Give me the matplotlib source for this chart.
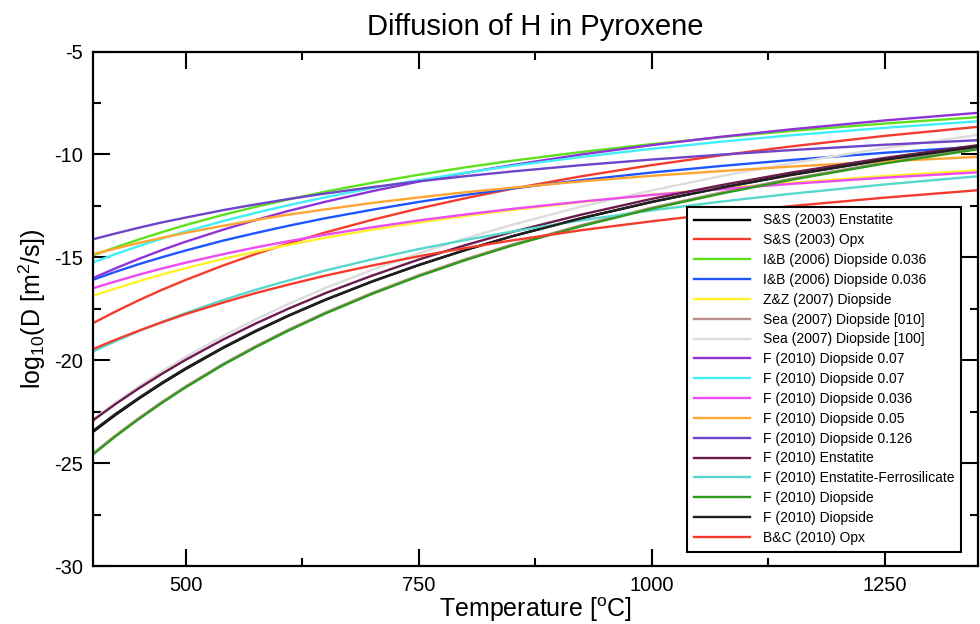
import matplotlib
matplotlib.use("Agg")
import matplotlib.pyplot as plt
from matplotlib.ticker import MultipleLocator

plt.rcParams['font.family'] = ['Liberation Sans', 'DejaVu Sans']
plt.rcParams['mathtext.fontset'] = 'custom'
plt.rcParams['mathtext.rm'] = 'Liberation Sans'
plt.rcParams['mathtext.it'] = 'Liberation Sans'
plt.rcParams['axes.unicode_minus'] = False

# Temperatures (deg C) at which log10(D) is tabulated
temperature_c = [400, 425, 450, 475, 500, 540, 575, 610, 650, 700,
                 750, 800, 850, 925, 1000, 1075, 1150, 1250, 1350]

# log10(D [m^2/s]) for each study
ss2003_enstatite = [-23.50, -22.65, -21.86, -21.12, -20.43, -19.41, -18.60, -17.85, -17.07, -16.18,
                    -15.38, -14.65, -13.98, -13.09, -12.31, -11.61, -10.98, -10.25, -9.60]
ss2003_opx = [-18.21, -17.63, -17.08, -16.57, -16.10, -15.40, -14.84, -14.33, -13.79, -13.18,
              -12.63, -12.13, -11.67, -11.06, -10.52, -10.04, -9.61, -9.10, -8.66]
ib2006_di_a = [-14.92, -14.51, -14.13, -13.77, -13.43, -12.94, -12.55, -12.19, -11.81, -11.38,
               -10.99, -10.63, -10.31, -9.88, -9.50, -9.16, -8.86, -8.50, -8.19]
ib2006_di_b = [-16.10, -15.70, -15.33, -14.99, -14.67, -14.19, -13.82, -13.47, -13.10, -12.69,
               -12.31, -11.97, -11.66, -11.25, -10.88, -10.56, -10.27, -9.92, -9.62]
zz2007_di = [-16.88, -16.51, -16.16, -15.83, -15.53, -15.08, -14.73, -14.40, -14.05, -13.66,
             -13.31, -12.99, -12.70, -12.31, -11.96, -11.65, -11.38, -11.05, -10.77]
sea2007_di_010 = [-24.55, -23.64, -22.80, -22.01, -21.27, -20.18, -19.32, -18.52, -17.68, -16.73,
                  -15.87, -15.09, -14.38, -13.43, -12.59, -11.85, -11.18, -10.39, -9.70]
sea2007_di_100 = [-22.90, -22.05, -21.26, -20.53, -19.84, -18.83, -18.02, -17.27, -16.49, -15.61,
                  -14.81, -14.08, -13.42, -12.53, -11.75, -11.05, -10.43, -9.69, -9.05]
f2010_di_007a = [-16.02, -15.53, -15.07, -14.64, -14.24, -13.66, -13.19, -12.75, -12.30, -11.79,
                 -11.32, -10.90, -10.52, -10.00, -9.55, -9.14, -8.78, -8.35, -7.98]
f2010_di_007b = [-15.26, -14.84, -14.45, -14.08, -13.74, -13.24, -12.84, -12.47, -12.08, -11.64,
                 -11.25, -10.89, -10.56, -10.12, -9.73, -9.38, -9.07, -8.71, -8.39]
f2010_di_0036 = [-16.51, -16.17, -15.84, -15.54, -15.26, -14.85, -14.52, -14.22, -13.90, -13.54,
                 -13.21, -12.92, -12.65, -12.29, -11.97, -11.69, -11.43, -11.13, -10.87]
f2010_di_005 = [-14.86, -14.57, -14.30, -14.05, -13.81, -13.47, -13.19, -12.93, -12.67, -12.36,
                -12.09, -11.84, -11.62, -11.31, -11.04, -10.81, -10.59, -10.34, -10.12]
f2010_di_0126 = [-14.13, -13.84, -13.56, -13.30, -13.07, -12.71, -12.43, -12.17, -11.90, -11.59,
                 -11.31, -11.06, -10.83, -10.52, -10.25, -10.01, -9.79, -9.53, -9.31]
f2010_enstatite = [-22.94, -22.12, -21.36, -20.65, -19.98, -19.00, -18.22, -17.50, -16.74, -15.89,
                   -15.11, -14.41, -13.77, -12.92, -12.16, -11.49, -10.88, -10.17, -9.55]
f2010_en_fs = [-19.59, -19.07, -18.58, -18.13, -17.71, -17.08, -16.58, -16.13, -15.64, -15.10,
               -14.60, -14.16, -13.75, -13.20, -12.72, -12.29, -11.91, -11.46, -11.06]
f2010_di_a = [-24.60, -23.69, -22.85, -22.06, -21.32, -20.23, -19.37, -18.57, -17.73, -16.78,
              -15.92, -15.14, -14.43, -13.48, -12.64, -11.90, -11.23, -10.44, -9.75]
f2010_di_b = [-23.45, -22.60, -21.82, -21.08, -20.39, -19.38, -18.57, -17.83, -17.05, -16.17,
              -15.37, -14.64, -13.98, -13.10, -12.31, -11.62, -11.00, -10.26, -9.62]
bc2010_opx = [-19.47, -19.00, -18.56, -18.15, -17.76, -17.20, -16.74, -16.33, -15.89, -15.40,
              -14.95, -14.55, -14.18, -13.68, -13.25, -12.86, -12.51, -12.10, -11.74]

labels = [
    "S&S (2003) Enstatite", "S&S (2003) Opx",
    "I&B (2006) Diopside 0.036", "I&B (2006) Diopside 0.036",
    "Z&Z (2007) Diopside", "Sea (2007) Diopside [010]", "Sea (2007) Diopside [100]",
    "F (2010) Diopside 0.07", "F (2010) Diopside 0.07", "F (2010) Diopside 0.036",
    "F (2010) Diopside 0.05", "F (2010) Diopside 0.126", "F (2010) Enstatite",
    "F (2010) Enstatite-Ferrosilicate", "F (2010) Diopside", "F (2010) Diopside",
    "B&C (2010) Opx",
]
series = [
    ss2003_enstatite, ss2003_opx, ib2006_di_a, ib2006_di_b, zz2007_di,
    sea2007_di_010, sea2007_di_100, f2010_di_007a, f2010_di_007b, f2010_di_0036,
    f2010_di_005, f2010_di_0126, f2010_enstatite, f2010_en_fs, f2010_di_a,
    f2010_di_b, bc2010_opx,
]
colors = [
    "#000000", "#f43b2c", "#5ee01c", "#1f55ff", "#fff22a", "#bc8f8f", "#dcdcdc",
    "#9033d6", "#40f0f8", "#ee4cf2", "#ffa531", "#6e44c8", "#6a1a4c", "#56d8cc",
    "#2e9a1c", "#202020", "#f43b2c",
]

fig = plt.figure(figsize=(9.8, 6.24), dpi=100)
ax = fig.add_axes([92.5 / 980, 58 / 624, 885.5 / 980, 514.5 / 624])

for vals, lab, col in zip(series, labels, colors):
    ax.plot(temperature_c, vals, color=col, lw=1.7, label=lab)

ax.set_xlim(400, 1350)
ax.set_ylim(-30, -5)
ax.xaxis.set_major_locator(MultipleLocator(250))
ax.xaxis.set_minor_locator(MultipleLocator(125))
ax.yaxis.set_major_locator(MultipleLocator(5))
ax.yaxis.set_minor_locator(MultipleLocator(2.5))
ax.tick_params(which='both', direction='in', top=True, right=True, width=1.5,
               labelsize=14.5)
ax.tick_params(which='major', length=12, pad=7)
ax.tick_params(which='minor', length=6)
for sp in ax.spines.values():
    sp.set_linewidth(1.6)

ax.set_title("Diffusion of H in Pyroxene", fontsize=21, pad=12)
ax.set_xlabel(r"Temperature [$^{\rm o}$C]", fontsize=18)
ax.set_ylabel(r"log$_{10}$(D [m$^2$/s])", fontsize=18)
ax.xaxis.set_label_coords(0.5, -0.058)
ax.yaxis.set_label_coords(-0.05, 0.5)

leg = ax.legend(loc='upper left', bbox_to_anchor=(687 / 980, 1 - 206.5 / 624),
                bbox_transform=fig.transFigure, fontsize=10, frameon=True,
                fancybox=False, shadow=False, handlelength=4.0,
                handletextpad=0.95, labelspacing=0.42, borderpad=0.5,
                borderaxespad=0)
leg.get_frame().set_edgecolor('black')
leg.get_frame().set_linewidth(1.5)
leg.get_frame().set_alpha(1)

fig.savefig("out.png", dpi=100)
